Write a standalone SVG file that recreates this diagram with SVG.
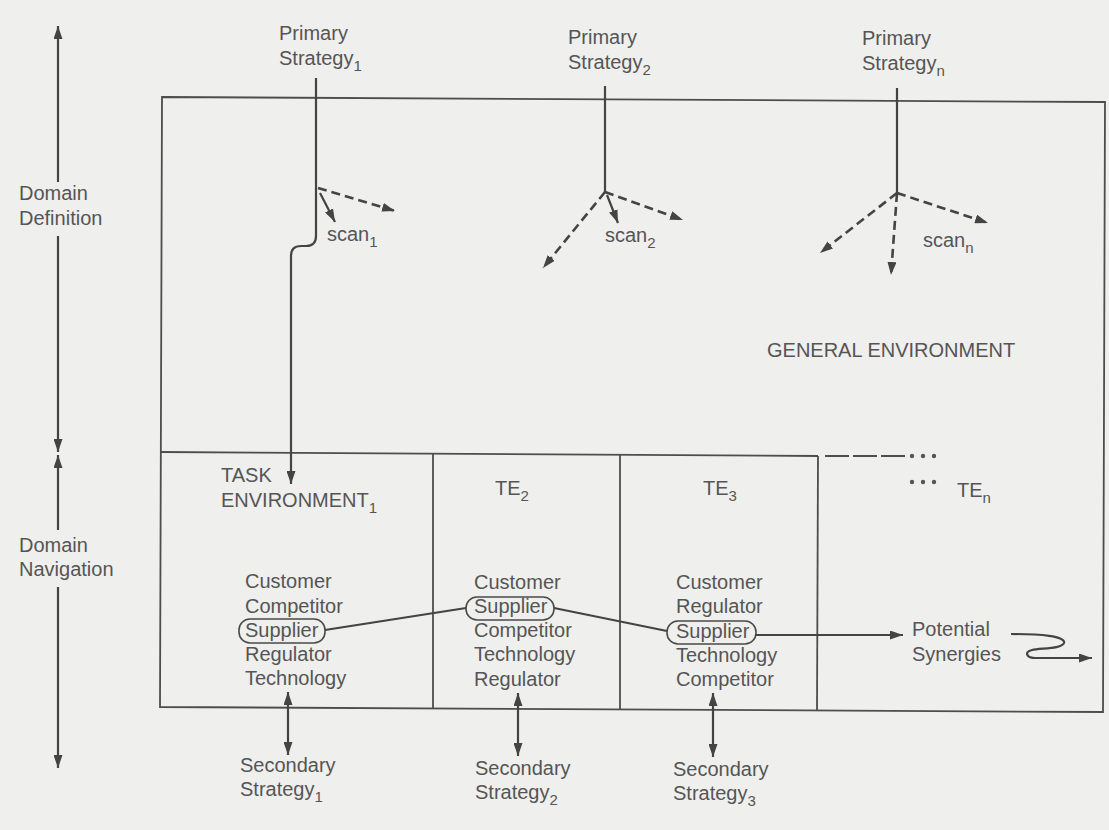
<svg xmlns="http://www.w3.org/2000/svg" width="1109" height="830" viewBox="0 0 1109 830">
<defs>
<style>
text{font-family:"Liberation Sans",Arial,sans-serif;font-size:20px;fill:#555555}
.sub{font-size:15px}
.ln{stroke:#444444;stroke-width:2.2;fill:none}
.box{stroke:#4d4d4d;stroke-width:1.8;fill:none}
.dash{stroke:#444444;stroke-width:2.6;fill:none;stroke-dasharray:9,5}
.sup{stroke:#4a4a4a;stroke-width:1.6;fill:none}
</style>
<marker id="ah" viewBox="0 0 13 9" refX="13" refY="4.5" markerWidth="13" markerHeight="9" markerUnits="userSpaceOnUse" orient="auto-start-reverse">
<path d="M0,0 L13,4.5 L0,9 z" fill="#444"/>
</marker>
</defs>
<rect x="0" y="0" width="1109" height="830" fill="#efefed"/>

<g id="axis">
<line class="ln" x1="58" y1="182" x2="58" y2="26" marker-end="url(#ah)"/>
<line class="ln" x1="58" y1="236" x2="58" y2="452" marker-end="url(#ah)"/>
<line class="ln" x1="58" y1="530" x2="58" y2="455" marker-end="url(#ah)"/>
<line class="ln" x1="58" y1="587" x2="58" y2="768" marker-end="url(#ah)"/>
<text x="19" y="200">Domain</text>
<text x="19" y="225">Definition</text>
<text x="19" y="552">Domain</text>
<text x="19" y="576">Navigation</text>
</g>

<g id="general-environment">
<path class="box" d="M162,97 L1105,102 L1103,712 L160,707 Z"/>
<text x="767" y="357">GENERAL ENVIRONMENT</text>
</g>

<g id="task-environments">
<line class="box" x1="160" y1="452" x2="818" y2="456"/>
<line class="box" x1="433" y1="453" x2="433" y2="709"/>
<line class="box" x1="620" y1="454" x2="620" y2="710"/>
<line class="box" x1="818" y1="456" x2="817" y2="711"/>
<line class="box" x1="825" y1="456" x2="905" y2="456" stroke-dasharray="24,4"/>
<g fill="#555">
<circle cx="912" cy="456" r="2.2"/><circle cx="923" cy="456" r="2.2"/><circle cx="934" cy="456" r="2.2"/>
<circle cx="912" cy="482" r="2.2"/><circle cx="923" cy="482" r="2.2"/><circle cx="934" cy="482" r="2.2"/>
</g>
</g>

<g id="te1">
<text x="221" y="482">TASK</text>
<text x="221" y="507">ENVIRONMENT<tspan class="sub" dy="6">1</tspan></text>
<text x="245" y="588">Customer</text>
<text x="245" y="613">Competitor</text>
<rect class="sup" x="239" y="619" width="86" height="24" rx="11"/>
<text x="245" y="637">Supplier</text>
<text x="245" y="661">Regulator</text>
<text x="245" y="685">Technology</text>
</g>

<g id="te2">
<text x="495" y="495">TE<tspan class="sub" dy="6">2</tspan></text>
<text x="474" y="589">Customer</text>
<rect class="sup" x="466" y="597" width="88" height="23" rx="11"/>
<text x="474" y="613">Supplier</text>
<text x="474" y="637">Competitor</text>
<text x="474" y="661">Technology</text>
<text x="474" y="686">Regulator</text>
</g>

<g id="te3">
<text x="703" y="495">TE<tspan class="sub" dy="6">3</tspan></text>
<text x="676" y="589">Customer</text>
<text x="676" y="613">Regulator</text>
<rect class="sup" x="667" y="621" width="89" height="23" rx="11"/>
<text x="676" y="638">Supplier</text>
<text x="676" y="662">Technology</text>
<text x="676" y="686">Competitor</text>
</g>

<g id="ten">
<text x="957" y="497">TE<tspan class="sub" dy="6">n</tspan></text>
</g>

<g id="primary-1">
<text x="279" y="40">Primary</text>
<text x="279" y="65">Strategy<tspan class="sub" dy="6">1</tspan></text>
<text x="327" y="241">scan<tspan class="sub" dy="6">1</tspan></text>
</g>
<g id="primary-2">
<text x="568" y="44">Primary</text>
<text x="568" y="69">Strategy<tspan class="sub" dy="6">2</tspan></text>
<text x="605" y="242">scan<tspan class="sub" dy="6">2</tspan></text>
</g>
<g id="primary-n">
<text x="862" y="45">Primary</text>
<text x="862" y="70">Strategy<tspan class="sub" dy="6">n</tspan></text>
<text x="923" y="247">scan<tspan class="sub" dy="6">n</tspan></text>
</g>

<g id="secondary-1">
<text x="240" y="772">Secondary</text>
<text x="240" y="796">Strategy<tspan class="sub" dy="6">1</tspan></text>
</g>
<g id="secondary-2">
<text x="475" y="775">Secondary</text>
<text x="475" y="799">Strategy<tspan class="sub" dy="6">2</tspan></text>
</g>
<g id="secondary-3">
<text x="673" y="776">Secondary</text>
<text x="673" y="800">Strategy<tspan class="sub" dy="6">3</tspan></text>
</g>

<g id="potential-synergies">
<text x="912" y="636">Potential</text>
<text x="912" y="661">Synergies</text>
</g>

<g id="connectors">
<path class="ln" d="M316,78 L316,236 Q316,246 306,246 L301,246 Q291,246 291,256 L291,484" marker-end="url(#ah)"/>
<line class="dash" x1="318" y1="188" x2="395" y2="211" marker-end="url(#ah)"/>
<line class="ln" x1="320" y1="193" x2="335" y2="222" marker-end="url(#ah)"/>

<line class="ln" x1="605" y1="86" x2="605" y2="192"/>
<line class="dash" x1="605" y1="192" x2="543" y2="268" marker-end="url(#ah)"/>
<line class="dash" x1="605" y1="192" x2="683" y2="220" marker-end="url(#ah)"/>
<line class="ln" x1="607" y1="195" x2="618" y2="223" marker-end="url(#ah)"/>

<line class="ln" x1="897" y1="88" x2="897" y2="193"/>
<line class="dash" x1="897" y1="193" x2="820" y2="253" marker-end="url(#ah)"/>
<line class="dash" x1="897" y1="193" x2="988" y2="223" marker-end="url(#ah)"/>
<line class="dash" x1="897" y1="193" x2="891" y2="275" marker-end="url(#ah)"/>

<line class="ln" x1="325" y1="630" x2="466" y2="608"/>
<line class="ln" x1="554" y1="608" x2="667" y2="631"/>
<line class="ln" x1="756" y1="635" x2="903" y2="635" marker-end="url(#ah)"/>
<path class="ln" d="M1011,634 C1040,634 1066,636 1064,643 C1062,649 1040,648 1032,650 C1024,652 1026,658 1036,658 L1092,658" marker-end="url(#ah)"/>

<line class="ln" x1="288" y1="692" x2="288" y2="755" marker-start="url(#ah)" marker-end="url(#ah)"/>
<line class="ln" x1="518" y1="693" x2="518" y2="756" marker-start="url(#ah)" marker-end="url(#ah)"/>
<line class="ln" x1="713" y1="693" x2="713" y2="757" marker-start="url(#ah)" marker-end="url(#ah)"/>
</g>
</svg>
